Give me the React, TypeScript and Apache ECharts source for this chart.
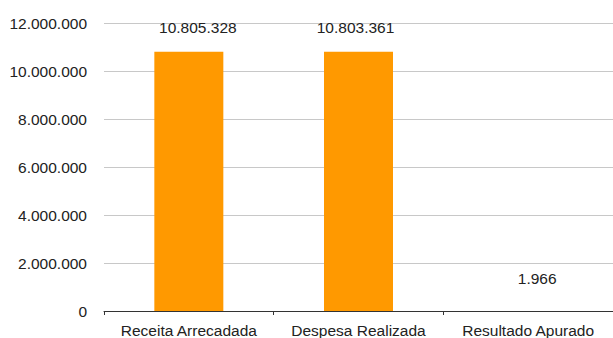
import React, { useEffect, useRef } from "react";
import * as echarts from "echarts";

const categories = ["Receita Arrecadada", "Despesa Realizada", "Resultado Apurado"];
const values = [10805328, 10803361, 1966];
const labelOffsets = [[9, 0], [-3, 0], [9, 0]];
const labelDistances = [16, 16, 24];
const yTicks = { min: 0, max: 12000000, interval: 2000000 };

const fmt = (v: number) => String(Math.round(v)).replace(/\B(?=(\d{3})+(?!\d))/g, ".");

export default function App() {
  const ref = useRef<HTMLDivElement>(null);
  useEffect(() => {
    if (!ref.current) return;
    const chart = echarts.init(ref.current, null, { renderer: "svg" });
    const font = "'Liberation Sans', Arial, sans-serif";
    chart.setOption({
      animation: false,
      textStyle: { fontFamily: font },
      grid: { left: 104, right: -1, top: 23, bottom: 27, containLabel: false },
      xAxis: {
        type: "category",
        data: categories,
        axisLine: { lineStyle: { color: "#333", width: 1 } },
        axisTick: { show: true, length: 4, lineStyle: { color: "#333" } },
        axisLabel: { color: "#222", fontSize: 15.5, margin: 11, interval: 0, hideOverlap: false, fontFamily: font },
      },
      yAxis: {
        type: "value",
        min: yTicks.min,
        max: yTicks.max,
        interval: yTicks.interval,
        axisLine: { show: false },
        axisTick: { show: false },
        splitLine: { lineStyle: { color: "#c8c8c8", width: 1 } },
        axisLabel: {
          color: "#222",
          fontSize: 15.5,
          margin: 17,
          fontFamily: font,
          formatter: (v: number) => fmt(v),
        },
      },
      series: [
        {
          type: "bar",
          barWidth: 69,
          itemStyle: { color: "#FF9900" },
          data: values.map((v, i) => ({
            value: v,
            label: {
              show: true,
              position: "top",
              distance: labelDistances[i],
              offset: labelOffsets[i],
              color: "#222",
              fontSize: 15.5,
              fontFamily: font,
              formatter: () => fmt(v),
            },
          })),
        },
      ],
    });
    return () => chart.dispose();
  }, []);
  return <div ref={ref} style={{ width: 613, height: 338, position: "absolute", left: 0, top: 0 }} />;
}
